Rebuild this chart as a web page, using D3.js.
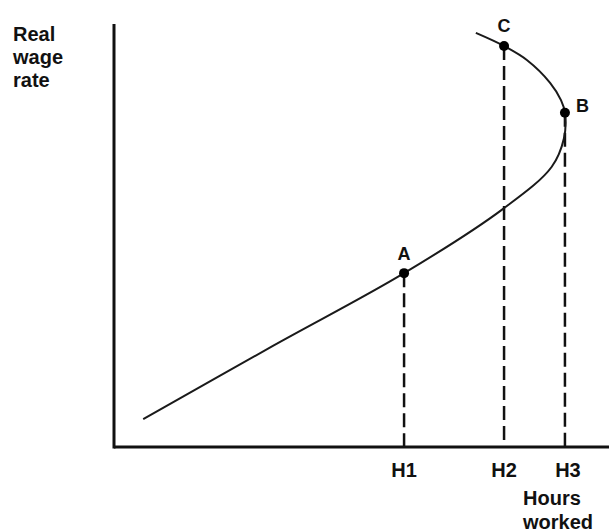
<!DOCTYPE html>
<html>
<head>
<meta charset="utf-8">
<script src="https://cdn.jsdelivr.net/npm/d3@7"></script>
<style>
  body { margin: 0; background: #fff; }
  svg text { font-family: "Liberation Sans", Arial, sans-serif; font-weight: bold; fill: #111; }
</style>
</head>
<body>
<svg width="609" height="532"></svg>
<script>
// Hours worked tick positions (arbitrary units)
var tickNames = ['H1', 'H2', 'H3'];
var tickHours = [58.6, 78.8, 91.1];

// Labelled points on the supply curve
var pointNames = ['A', 'C', 'B'];
var pointHours = [58.6, 78.8, 91.1];
var pointWages = [41.1, 94.8, 79.0];

// Backward-bending labour supply curve, in order along the curve
var curveHours = [5.9, 32.1, 58.6, 78.6, 88.4, 90.9, 91.1, 90.3, 88.1, 83.4, 78.8, 73.1];
var curveWages = [6.6, 23.9, 41.1, 56.3, 66.2, 73.0, 79.0, 82.0, 86.1, 91.5, 94.8, 97.9];

var svg = d3.select('svg');

//scales: hours to the right, wage upward
var x = d3.scaleLinear().domain([0, 100]).range([114, 609]),
    y = d3.scaleLinear().domain([0, 100]).range([447, 24]);

// axes (plain lines, no ticks)
svg.append('line')
    .attr('x1', x(0)).attr('x2', x(0))
    .attr('y1', y(100)).attr('y2', y(0) + 1.5)
    .attr('stroke', '#111').attr('stroke-width', 3);
svg.append('line')
    .attr('x1', x(0)).attr('x2', x(100))
    .attr('y1', y(0)).attr('y2', y(0))
    .attr('stroke', '#111').attr('stroke-width', 3);

// dashed drop lines from each point to the hours axis
svg.selectAll('.drop')
  .data(pointNames)
  .enter().append('line')
    .attr('class', 'drop')
    .attr('x1', function(d, i) { return x(pointHours[i]); })
    .attr('x2', function(d, i) { return x(pointHours[i]); })
    .attr('y1', function(d, i) { return y(pointWages[i]); })
    .attr('y2', y(0))
    .attr('stroke', '#111')
    .attr('stroke-width', 2.5)
    .attr('stroke-dasharray', '14,6');

// the curve
var pts = curveHours.map(function(h, i) { return [h, curveWages[i]]; });
var line = d3.line()
    .x(function(d) { return x(d[0]); })
    .y(function(d) { return y(d[1]); })
    .curve(d3.curveCatmullRom.alpha(0.5));
svg.append('path')
    .attr('d', line(pts))
    .attr('fill', 'none')
    .attr('stroke', '#1a1a1a')
    .attr('stroke-width', 2);

// dots
svg.selectAll('.dot')
  .data(pointNames)
  .enter().append('circle')
    .attr('class', 'dot')
    .attr('cx', function(d, i) { return x(pointHours[i]); })
    .attr('cy', function(d, i) { return y(pointWages[i]); })
    .attr('r', 5)
    .attr('fill', '#000');

// point labels
var labelDx = [0, 0, 11], labelDy = [-13, -14, -1], labelAnchor = ['middle', 'middle', 'start'];
svg.selectAll('.plabel')
  .data(pointNames)
  .enter().append('text')
    .attr('class', 'plabel')
    .attr('x', function(d, i) { return x(pointHours[i]) + labelDx[i]; })
    .attr('y', function(d, i) { return y(pointWages[i]) + labelDy[i]; })
    .attr('text-anchor', function(d, i) { return labelAnchor[i]; })
    .style('font-size', '18px')
    .text(function(d) { return d; });

// hours tick labels
svg.selectAll('.tlabel')
  .data(tickNames)
  .enter().append('text')
    .attr('class', 'tlabel')
    .attr('x', function(d, i) { return x(tickHours[i]) + (i === 2 ? 3 : 0); })
    .attr('y', 477)
    .attr('text-anchor', 'middle')
    .style('font-size', '20px')
    .text(function(d) { return d; });

// axis titles
var yTitle = svg.append('text').attr('x', 13).attr('y', 41).style('font-size', '20px');
['Real', 'wage', 'rate'].forEach(function(t, i) {
  yTitle.append('tspan').attr('x', 13).attr('dy', i ? 23 : 0).text(t);
});
var xTitle = svg.append('text').attr('x', 523).attr('y', 505).style('font-size', '20px');
['Hours', 'worked'].forEach(function(t, i) {
  xTitle.append('tspan').attr('x', 523).attr('dy', i ? 24 : 0).text(t);
});
</script>
</body>
</html>
